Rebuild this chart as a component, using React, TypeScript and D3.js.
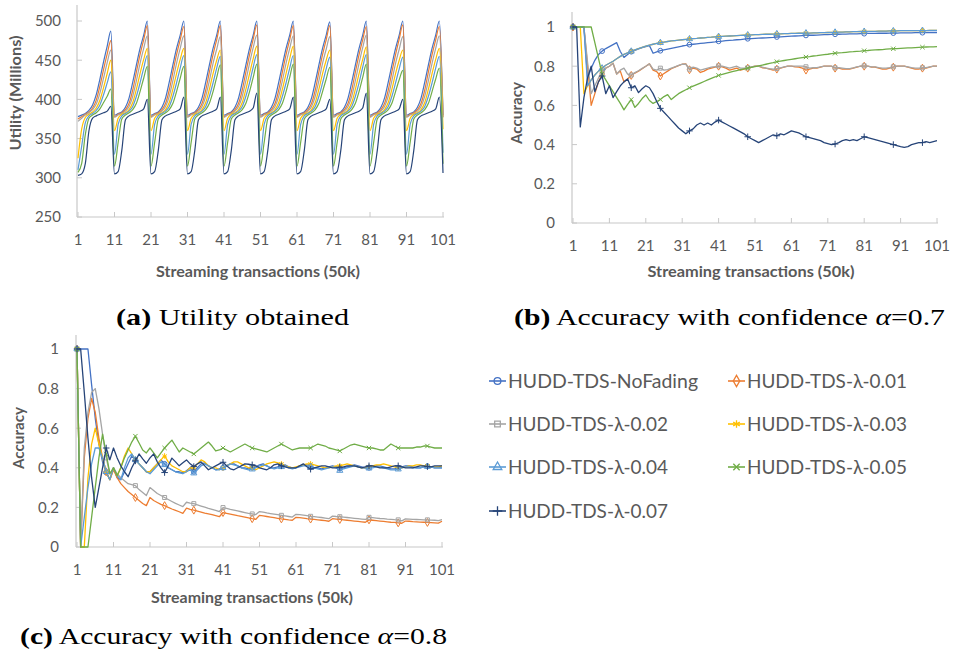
import React from 'react';
import * as d3 from 'd3';

const SERIES_NAMES = ['HUDD-TDS-NoFading', 'HUDD-TDS-λ-0.01', 'HUDD-TDS-λ-0.02', 'HUDD-TDS-λ-0.03', 'HUDD-TDS-λ-0.04', 'HUDD-TDS-λ-0.05', 'HUDD-TDS-λ-0.07'];
const SERIES_COLORS = ['#4472C4', '#ED7D31', '#A5A5A5', '#FFC000', '#5B9BD5', '#70AD47', '#264478'];
const X_TICKS = [1, 11, 21, 31, 41, 51, 61, 71, 81, 91, 101];
const UTIL_TICKS = [250, 300, 350, 400, 450, 500];
const ACC_TICKS = [0, 0.2, 0.4, 0.6, 0.8, 1];

// (a) Utility obtained (millions)
const A_NOFADING = [
  378, 380, 382, 386, 393, 406, 426, 448, 468, 487,
  380, 382, 384, 390, 402, 422, 444, 465, 482, 500,
  380, 382, 384, 390, 402, 422, 444, 465, 482, 500,
  380, 382, 384, 390, 402, 422, 444, 465, 482, 500,
  380, 382, 384, 390, 402, 422, 444, 465, 482, 500,
  380, 382, 384, 390, 402, 422, 444, 465, 482, 500,
  380, 382, 384, 390, 402, 422, 444, 465, 482, 499,
  380, 382, 384, 390, 402, 422, 444, 465, 482, 500,
  380, 382, 384, 390, 402, 422, 444, 465, 482, 500,
  380, 382, 384, 390, 402, 422, 444, 465, 482, 500,
  380];
const A_L001 = [
  375, 378, 381, 384, 389, 399, 417, 438, 458, 475,
  378, 381, 383, 387, 395, 412, 435, 457, 476, 494,
  378, 381, 383, 387, 395, 412, 435, 457, 476, 493,
  378, 381, 383, 387, 395, 412, 435, 457, 476, 494,
  378, 381, 383, 387, 395, 412, 435, 457, 477, 495,
  378, 381, 383, 387, 395, 412, 435, 457, 476, 494,
  378, 381, 383, 387, 395, 412, 435, 457, 476, 494,
  378, 381, 383, 387, 395, 412, 435, 457, 476, 493,
  378, 381, 383, 387, 395, 412, 435, 457, 477, 495,
  378, 381, 383, 387, 395, 412, 435, 457, 476, 493,
  378];
const A_L002 = [
  372, 376, 380, 383, 387, 394, 408, 427, 447, 463,
  377, 380, 382, 385, 391, 404, 424, 446, 465, 481,
  377, 380, 382, 385, 391, 404, 424, 446, 465, 481,
  377, 380, 382, 385, 391, 404, 424, 446, 464, 480,
  377, 380, 382, 385, 391, 404, 424, 446, 466, 482,
  377, 380, 382, 385, 391, 404, 424, 446, 465, 481,
  377, 380, 382, 385, 391, 404, 424, 446, 464, 480,
  377, 380, 382, 385, 391, 404, 424, 446, 466, 482,
  377, 380, 382, 385, 391, 404, 424, 446, 464, 480,
  377, 380, 382, 385, 391, 404, 424, 446, 465, 481,
  377];
const A_L003 = [
  325, 362, 377, 381, 384, 389, 399, 415, 433, 450,
  360, 376, 381, 383, 387, 396, 413, 433, 451, 465,
  360, 376, 381, 383, 387, 396, 413, 433, 451, 465,
  360, 376, 381, 383, 387, 396, 413, 433, 450, 463,
  360, 376, 381, 383, 387, 396, 413, 433, 452, 468,
  360, 376, 381, 383, 387, 396, 413, 433, 452, 468,
  360, 376, 381, 383, 387, 396, 413, 433, 450, 463,
  360, 376, 381, 383, 387, 396, 413, 433, 451, 467,
  360, 376, 381, 383, 387, 396, 413, 433, 450, 463,
  360, 376, 381, 383, 387, 396, 413, 433, 451, 465,
  362];
const A_L004 = [
  310, 340, 370, 379, 382, 386, 393, 406, 421, 435,
  330, 368, 379, 382, 385, 391, 404, 421, 440, 456,
  330, 368, 379, 382, 385, 391, 404, 421, 440, 456,
  330, 368, 379, 382, 385, 391, 404, 421, 440, 455,
  330, 368, 379, 382, 385, 391, 404, 421, 441, 457,
  330, 368, 379, 382, 385, 391, 404, 421, 440, 456,
  330, 368, 379, 382, 385, 391, 404, 421, 439, 454,
  330, 368, 379, 382, 385, 391, 404, 421, 441, 457,
  330, 368, 379, 382, 385, 391, 404, 421, 439, 454,
  330, 368, 379, 382, 385, 391, 404, 421, 440, 455,
  332];
const A_L005 = [
  307, 318, 355, 376, 380, 383, 388, 396, 404, 413,
  315, 345, 375, 380, 383, 387, 395, 410, 427, 442,
  315, 345, 375, 380, 383, 387, 395, 410, 427, 442,
  315, 345, 375, 380, 383, 387, 395, 410, 428, 444,
  315, 345, 375, 380, 383, 387, 395, 410, 428, 445,
  315, 345, 375, 380, 383, 387, 395, 410, 428, 445,
  315, 345, 375, 380, 383, 387, 395, 410, 426, 441,
  315, 345, 375, 380, 383, 387, 395, 410, 428, 445,
  315, 345, 375, 380, 383, 387, 395, 410, 425, 437,
  315, 345, 375, 380, 383, 387, 395, 410, 426, 440,
  318];
const A_L007 = [
  303, 305, 318, 360, 376, 379, 381, 383, 385, 391,
  305, 308, 335, 374, 379, 381, 383, 385, 388, 400,
  305, 308, 335, 374, 379, 381, 383, 385, 388, 403,
  305, 308, 335, 374, 379, 381, 383, 385, 388, 403,
  305, 308, 335, 374, 379, 381, 383, 385, 389, 408,
  305, 308, 335, 374, 379, 381, 383, 385, 388, 403,
  305, 308, 335, 374, 379, 381, 383, 385, 388, 400,
  305, 308, 335, 374, 379, 381, 383, 385, 389, 408,
  305, 308, 335, 374, 379, 381, 383, 385, 388, 400,
  305, 308, 335, 374, 379, 381, 383, 385, 388, 403,
  306];

// (b) Accuracy with confidence alpha = 0.7
const B_NOFADING = [
  1, 1, 1, 1, 0.74, 0.79, 0.83, 0.86, 0.877, 0.89,
  0.90, 0.91, 0.92, 0.875, 0.845, 0.86, 0.874, 0.881, 0.888, 0.895,
  0.90, 0.905, 0.866, 0.873, 0.879, 0.883, 0.887, 0.891, 0.895, 0.899,
  0.903, 0.906, 0.910, 0.912, 0.914, 0.916, 0.918, 0.920, 0.922, 0.924,
  0.927, 0.928, 0.930, 0.932, 0.933, 0.935, 0.936, 0.938, 0.940, 0.941,
  0.942, 0.943, 0.944, 0.945, 0.946, 0.947, 0.949, 0.950, 0.951, 0.952,
  0.953, 0.954, 0.955, 0.956, 0.957, 0.958, 0.958, 0.959, 0.960, 0.961,
  0.961, 0.962, 0.963, 0.963, 0.964, 0.964, 0.965, 0.965, 0.965, 0.966,
  0.966, 0.967, 0.967, 0.967, 0.968, 0.968, 0.968, 0.969, 0.969, 0.969,
  0.970, 0.970, 0.970, 0.970, 0.971, 0.971, 0.971, 0.971, 0.972, 0.972, 0.972];
const B_L001 = [
  1, 1, 1, 1, 0.80, 0.60, 0.66, 0.72, 0.76, 0.79,
  0.80, 0.815, 0.76, 0.775, 0.72, 0.735, 0.753, 0.765, 0.775, 0.787,
  0.80, 0.812, 0.78, 0.772, 0.75, 0.763, 0.775, 0.787, 0.795, 0.803,
  0.81, 0.812, 0.782, 0.79, 0.785, 0.768, 0.775, 0.785, 0.79, 0.795,
  0.80, 0.797, 0.79, 0.78, 0.785, 0.79, 0.78, 0.785, 0.79, 0.795,
  0.80, 0.80, 0.792, 0.79, 0.785, 0.78, 0.785, 0.79, 0.795, 0.80,
  0.80, 0.797, 0.795, 0.79, 0.78, 0.785, 0.79, 0.79, 0.795, 0.80,
  0.80, 0.80, 0.79, 0.79, 0.785, 0.785, 0.785, 0.79, 0.795, 0.80,
  0.80, 0.80, 0.795, 0.795, 0.79, 0.785, 0.785, 0.79, 0.795, 0.80,
  0.80, 0.80, 0.795, 0.79, 0.785, 0.785, 0.79, 0.79, 0.795, 0.80, 0.80];
const B_L002 = [
  1, 1, 1, 1, 0.82, 0.66, 0.70, 0.74, 0.77, 0.79,
  0.80, 0.815, 0.76, 0.78, 0.79, 0.76, 0.755, 0.767, 0.777, 0.789,
  0.80, 0.812, 0.785, 0.78, 0.79, 0.78, 0.783, 0.79, 0.797, 0.804,
  0.81, 0.81, 0.785, 0.795, 0.79, 0.78, 0.785, 0.79, 0.795, 0.798,
  0.802, 0.80, 0.795, 0.79, 0.795, 0.80, 0.79, 0.79, 0.792, 0.797,
  0.80, 0.80, 0.795, 0.79, 0.787, 0.785, 0.788, 0.792, 0.797, 0.80,
  0.80, 0.80, 0.80, 0.80, 0.797, 0.79, 0.792, 0.793, 0.797, 0.80,
  0.80, 0.80, 0.792, 0.792, 0.79, 0.788, 0.788, 0.792, 0.797, 0.80,
  0.802, 0.80, 0.797, 0.797, 0.793, 0.79, 0.79, 0.793, 0.797, 0.80,
  0.80, 0.80, 0.797, 0.793, 0.79, 0.79, 0.792, 0.793, 0.797, 0.80, 0.80];
const B_L003 = [
  1, 1, 1, 0.66, 0.70, 0.73, 0.755, 0.775, 0.79, 0.805,
  0.815, 0.825, 0.838, 0.85, 0.86, 0.868, 0.876, 0.883, 0.89, 0.896,
  0.902, 0.907, 0.912, 0.916, 0.92, 0.923, 0.926, 0.929, 0.931, 0.933,
  0.935, 0.937, 0.939, 0.941, 0.942, 0.944, 0.945, 0.947, 0.948, 0.95,
  0.951, 0.952, 0.953, 0.954, 0.955, 0.956, 0.957, 0.958, 0.959, 0.960,
  0.961, 0.961, 0.962, 0.963, 0.963, 0.964, 0.965, 0.965, 0.966, 0.966,
  0.967, 0.967, 0.968, 0.968, 0.969, 0.969, 0.970, 0.970, 0.971, 0.971,
  0.972, 0.973, 0.973, 0.974, 0.974, 0.975, 0.975, 0.976, 0.976, 0.977,
  0.977, 0.978, 0.978, 0.978, 0.979, 0.979, 0.979, 0.980, 0.980, 0.980,
  0.981, 0.981, 0.981, 0.981, 0.982, 0.982, 0.982, 0.982, 0.983, 0.983, 0.983];
const B_L004 = [
  1, 1, 1, 1, 0.70, 0.73, 0.755, 0.775, 0.79, 0.805,
  0.815, 0.825, 0.838, 0.85, 0.86, 0.868, 0.876, 0.883, 0.89, 0.896,
  0.902, 0.907, 0.912, 0.916, 0.92, 0.923, 0.926, 0.929, 0.931, 0.933,
  0.935, 0.937, 0.939, 0.941, 0.942, 0.944, 0.945, 0.947, 0.948, 0.95,
  0.951, 0.952, 0.953, 0.954, 0.955, 0.956, 0.957, 0.958, 0.959, 0.960,
  0.961, 0.961, 0.962, 0.963, 0.963, 0.964, 0.965, 0.965, 0.966, 0.966,
  0.967, 0.967, 0.968, 0.968, 0.969, 0.969, 0.970, 0.970, 0.971, 0.971,
  0.972, 0.973, 0.973, 0.974, 0.974, 0.975, 0.975, 0.976, 0.976, 0.977,
  0.977, 0.978, 0.978, 0.978, 0.979, 0.979, 0.979, 0.980, 0.980, 0.980,
  0.981, 0.981, 0.981, 0.981, 0.982, 0.982, 0.982, 0.982, 0.983, 0.983, 0.983];
const B_L005 = [
  1, 1, 1, 1, 1, 1, 0.92, 0.84, 0.76, 0.73,
  0.70, 0.67, 0.64, 0.61, 0.577, 0.605, 0.63, 0.59, 0.61, 0.635,
  0.653, 0.625, 0.61, 0.62, 0.63, 0.645, 0.655, 0.63, 0.645, 0.66,
  0.67, 0.68, 0.69, 0.698, 0.706, 0.714, 0.722, 0.73, 0.738, 0.745,
  0.753, 0.758, 0.763, 0.768, 0.773, 0.778, 0.782, 0.786, 0.79, 0.794,
  0.798, 0.802, 0.806, 0.81, 0.814, 0.818, 0.823, 0.826, 0.829, 0.832,
  0.835, 0.838, 0.841, 0.844, 0.847, 0.849, 0.852, 0.854, 0.857, 0.859,
  0.861, 0.864, 0.866, 0.868, 0.869, 0.871, 0.873, 0.874, 0.876, 0.877,
  0.879, 0.88, 0.882, 0.883, 0.884, 0.885, 0.887, 0.888, 0.889, 0.89,
  0.891, 0.892, 0.893, 0.894, 0.895, 0.896, 0.897, 0.898, 0.899, 0.899, 0.90];
const B_L007 = [
  1, 1, 0.49, 0.64, 0.74, 0.80, 0.67, 0.72, 0.75, 0.66,
  0.70, 0.64, 0.67, 0.70, 0.72, 0.735, 0.69, 0.70, 0.665, 0.685,
  0.70, 0.69, 0.66, 0.62, 0.585, 0.565, 0.545, 0.525, 0.505, 0.485,
  0.47, 0.455, 0.47, 0.48, 0.50, 0.51, 0.50, 0.51, 0.50, 0.515,
  0.525, 0.515, 0.505, 0.495, 0.485, 0.475, 0.465, 0.455, 0.44, 0.43,
  0.42, 0.41, 0.42, 0.43, 0.44, 0.45, 0.445, 0.455, 0.45, 0.46,
  0.47, 0.465, 0.46, 0.45, 0.44, 0.435, 0.43, 0.425, 0.42, 0.41,
  0.405, 0.40, 0.403, 0.41, 0.42, 0.425, 0.42, 0.425, 0.42, 0.43,
  0.44, 0.435, 0.43, 0.425, 0.42, 0.415, 0.41, 0.405, 0.40, 0.395,
  0.39, 0.386, 0.39, 0.40, 0.405, 0.41, 0.41, 0.415, 0.41, 0.415, 0.42];

// (c) Accuracy with confidence alpha = 0.8
const C_NOFADING = [
  1, 1, 1, 1, 0.82, 0.65, 0.52, 0.43, 0.376, 0.34,
  0.40, 0.35, 0.34, 0.38, 0.42, 0.46, 0.44, 0.42, 0.40, 0.38,
  0.38, 0.40, 0.42, 0.44, 0.42, 0.40, 0.39, 0.38, 0.38, 0.375,
  0.385, 0.40, 0.38, 0.40, 0.42, 0.425, 0.41, 0.40, 0.39, 0.395,
  0.40, 0.41, 0.42, 0.42, 0.41, 0.40, 0.40, 0.395, 0.40, 0.405,
  0.415, 0.42, 0.41, 0.40, 0.40, 0.405, 0.41, 0.415, 0.405, 0.40,
  0.40, 0.41, 0.415, 0.415, 0.41, 0.40, 0.40, 0.395, 0.40, 0.405,
  0.41, 0.405, 0.395, 0.40, 0.405, 0.41, 0.415, 0.41, 0.405, 0.40,
  0.40, 0.405, 0.41, 0.41, 0.405, 0.40, 0.395, 0.395, 0.40, 0.405,
  0.41, 0.41, 0.405, 0.40, 0.40, 0.405, 0.408, 0.405, 0.40, 0.40, 0.40];
const C_L001 = [
  1, 0, 0.45, 0.65, 0.75, 0.68, 0.55, 0.45, 0.38, 0.34,
  0.39, 0.35, 0.32, 0.30, 0.28, 0.265, 0.25, 0.235, 0.22, 0.209,
  0.25, 0.235, 0.225, 0.215, 0.209, 0.20, 0.192, 0.185, 0.178, 0.17,
  0.196, 0.19, 0.186, 0.181, 0.176, 0.171, 0.167, 0.163, 0.158, 0.153,
  0.174, 0.17, 0.166, 0.162, 0.158, 0.155, 0.151, 0.147, 0.143, 0.14,
  0.16, 0.157, 0.154, 0.151, 0.148, 0.145, 0.142, 0.14, 0.137, 0.135,
  0.15, 0.148, 0.146, 0.143, 0.141, 0.139, 0.137, 0.135, 0.133, 0.13,
  0.143, 0.141, 0.139, 0.137, 0.135, 0.133, 0.131, 0.129, 0.127, 0.125,
  0.137, 0.135, 0.133, 0.131, 0.129, 0.127, 0.125, 0.124, 0.122, 0.12,
  0.131, 0.13, 0.128, 0.127, 0.126, 0.125, 0.124, 0.123, 0.122, 0.121, 0.13];
const C_L002 = [
  1, 0, 0.50, 0.68, 0.78, 0.80, 0.70, 0.57, 0.45, 0.37,
  0.40, 0.37, 0.35, 0.335, 0.32, 0.315, 0.31, 0.29, 0.275, 0.26,
  0.30, 0.285, 0.27, 0.26, 0.25, 0.24, 0.23, 0.22, 0.212, 0.204,
  0.226, 0.222, 0.219, 0.213, 0.207, 0.201, 0.195, 0.19, 0.185, 0.179,
  0.199, 0.195, 0.19, 0.186, 0.182, 0.178, 0.174, 0.17, 0.167, 0.164,
  0.179, 0.176, 0.172, 0.169, 0.166, 0.163, 0.16, 0.157, 0.154, 0.151,
  0.165, 0.163, 0.161, 0.158, 0.155, 0.153, 0.151, 0.149, 0.146, 0.143,
  0.156, 0.154, 0.153, 0.151, 0.149, 0.147, 0.145, 0.143, 0.141, 0.139,
  0.15, 0.148, 0.146, 0.144, 0.143, 0.141, 0.14, 0.138, 0.137, 0.132,
  0.142, 0.141, 0.14, 0.139, 0.138, 0.137, 0.137, 0.136, 0.135, 0.133, 0.138];
const C_L003 = [
  1, 0, 0, 0.35, 0.52, 0.60, 0.52, 0.45, 0.38, 0.34,
  0.40, 0.36, 0.40, 0.46, 0.50, 0.47, 0.44, 0.42, 0.40, 0.38,
  0.38, 0.40, 0.42, 0.44, 0.46, 0.43, 0.41, 0.40, 0.39, 0.38,
  0.38, 0.40, 0.40, 0.42, 0.44, 0.43, 0.41, 0.40, 0.40, 0.39,
  0.40, 0.41, 0.42, 0.43, 0.43, 0.42, 0.41, 0.40, 0.40, 0.39,
  0.40, 0.41, 0.42, 0.425, 0.43, 0.425, 0.42, 0.41, 0.405, 0.40,
  0.405, 0.41, 0.415, 0.42, 0.42, 0.415, 0.41, 0.405, 0.40, 0.40,
  0.405, 0.41, 0.41, 0.415, 0.42, 0.415, 0.41, 0.405, 0.40, 0.40,
  0.405, 0.41, 0.415, 0.415, 0.42, 0.415, 0.41, 0.405, 0.40, 0.40,
  0.405, 0.41, 0.41, 0.415, 0.415, 0.41, 0.41, 0.405, 0.405, 0.405, 0.41];
const C_L004 = [
  1, 0, 0.15, 0.30, 0.42, 0.50, 0.50, 0.45, 0.38, 0.34,
  0.40, 0.36, 0.34, 0.40, 0.45, 0.47, 0.44, 0.42, 0.40, 0.38,
  0.37, 0.39, 0.41, 0.43, 0.415, 0.40, 0.39, 0.38, 0.375, 0.37,
  0.38, 0.39, 0.373, 0.39, 0.41, 0.42, 0.41, 0.40, 0.39, 0.39,
  0.40, 0.41, 0.42, 0.415, 0.41, 0.40, 0.395, 0.39, 0.393, 0.40,
  0.41, 0.415, 0.41, 0.40, 0.395, 0.40, 0.405, 0.41, 0.40, 0.395,
  0.40, 0.405, 0.41, 0.41, 0.405, 0.40, 0.395, 0.39, 0.395, 0.40,
  0.405, 0.40, 0.386, 0.395, 0.40, 0.405, 0.41, 0.405, 0.40, 0.398,
  0.398, 0.40, 0.405, 0.405, 0.40, 0.395, 0.39, 0.39, 0.393, 0.40,
  0.405, 0.405, 0.40, 0.40, 0.40, 0.405, 0.406, 0.405, 0.40, 0.40, 0.40];
const C_L005 = [
  1, 0, 0, 0, 0.15, 0.30, 0.45, 0.57, 0.47, 0.37,
  0.40, 0.36, 0.40, 0.45, 0.49, 0.53, 0.56, 0.525, 0.49, 0.475,
  0.50, 0.475, 0.45, 0.475, 0.50, 0.52, 0.54, 0.51, 0.48, 0.50,
  0.49, 0.48, 0.47, 0.485, 0.50, 0.515, 0.53, 0.51, 0.485, 0.49,
  0.50, 0.49, 0.48, 0.49, 0.50, 0.51, 0.52, 0.51, 0.50, 0.495,
  0.49, 0.485, 0.48, 0.49, 0.50, 0.51, 0.52, 0.51, 0.50, 0.49,
  0.495, 0.50, 0.50, 0.50, 0.50, 0.51, 0.52, 0.515, 0.51, 0.50,
  0.495, 0.49, 0.485, 0.495, 0.505, 0.515, 0.52, 0.515, 0.51, 0.505,
  0.50, 0.50, 0.495, 0.49, 0.49, 0.505, 0.52, 0.51, 0.50, 0.50,
  0.50, 0.50, 0.50, 0.505, 0.505, 0.51, 0.51, 0.505, 0.50, 0.50, 0.50];
const C_L007 = [
  1, 1, 0.78, 0.55, 0.35, 0.20, 0.30, 0.40, 0.50, 0.44,
  0.50, 0.45, 0.41, 0.38, 0.355, 0.40, 0.435, 0.47, 0.445, 0.423,
  0.45, 0.47, 0.43, 0.40, 0.376, 0.41, 0.449, 0.43, 0.41, 0.425,
  0.44, 0.42, 0.406, 0.42, 0.43, 0.41, 0.39, 0.40, 0.41, 0.42,
  0.428, 0.41, 0.395, 0.39, 0.40, 0.41, 0.42, 0.418, 0.415, 0.41,
  0.40, 0.395, 0.39, 0.40, 0.415, 0.42, 0.41, 0.405, 0.40, 0.40,
  0.40, 0.41, 0.42, 0.405, 0.393, 0.40, 0.405, 0.41, 0.41, 0.405,
  0.40, 0.40, 0.403, 0.405, 0.41, 0.41, 0.41, 0.405, 0.40, 0.405,
  0.41, 0.41, 0.405, 0.40, 0.40, 0.40, 0.405, 0.41, 0.41, 0.405,
  0.40, 0.40, 0.40, 0.405, 0.41, 0.41, 0.406, 0.405, 0.41, 0.41, 0.41];

const PANEL_A = [A_NOFADING, A_L001, A_L002, A_L003, A_L004, A_L005, A_L007];
const PANEL_B = [B_NOFADING, B_L001, B_L002, B_L003, B_L004, B_L005, B_L007];
const PANEL_C = [C_NOFADING, C_L001, C_L002, C_L003, C_L004, C_L005, C_L007];

const SYMBOLS = [d3.symbolCircle, d3.symbolDiamond, d3.symbolSquare, d3.symbolAsterisk, d3.symbolTriangle, d3.symbolTimes, d3.symbolPlus];
const SYMBOL_SIZES = [18, 18, 16, 20, 16, 14, 16];

const SANS = 'Lato, "Open Sans", sans-serif';
const TEXT = '#595959';
const AXIS = '#C8C8C8';

function symbolPath(i: number, scale = 1) {
  return d3.symbol().type(SYMBOLS[i]).size(SYMBOL_SIZES[i] * scale)() || '';
}

type PanelProps = {
  series: number[][];
  x0: number; x1: number;
  yDomain: [number, number]; yTop: number; yBottom: number; axisTop: number;
  yTicks: number[]; fmt: (v: number) => string;
  labelRight: number; xLabelY: number;
  yTitle: string; yTitleX: number; yTitleY: number; yTitleLen: number;
  xTitleX: number; xTitleY: number; xTitleLen: number;
  smooth: boolean; markers: boolean; strokeW: number;
};

function Panel(p: PanelProps) {
  const xs = d3.scaleLinear().domain([1, 101]).range([p.x0, p.x1]);
  const ys = d3.scaleLinear().domain(p.yDomain).range([p.yBottom, p.yTop]);
  const line = d3.line<number>()
    .x((_, i) => xs(i + 1))
    .y((d) => ys(d))
    .curve(p.smooth ? d3.curveMonotoneX : d3.curveLinear);
  const axisX = p.x0 - 1;
  const baseY = ys(p.yDomain[0]);
  return (
    <g>
      <line x1={axisX} x2={axisX} y1={p.axisTop} y2={baseY} stroke={AXIS} strokeWidth={1.2} />
      <line x1={axisX} x2={p.x1 + 1} y1={baseY} y2={baseY} stroke={AXIS} strokeWidth={1.2} />
      {p.yTicks.map((t) => (
        <g key={'yt' + t}>
          <line x1={axisX} x2={axisX + 5} y1={ys(t)} y2={ys(t)} stroke={AXIS} strokeWidth={1} />
          <text x={p.labelRight} y={ys(t)} dy="0.36em" textAnchor="end" fontFamily={SANS} fontSize={15} fill={TEXT}>{p.fmt(t)}</text>
        </g>
      ))}
      {X_TICKS.map((t) => (
        <g key={'xt' + t}>
          <line x1={xs(t)} x2={xs(t)} y1={baseY - 5} y2={baseY} stroke={AXIS} strokeWidth={1} />
          <text x={xs(t)} y={p.xLabelY} textAnchor="middle" fontFamily={SANS} fontSize={15} fill={TEXT}>{t}</text>
        </g>
      ))}
      {p.series.map((s, si) => (
        <g key={'s' + si}>
          <path d={line(s) || ''} fill="none" stroke={SERIES_COLORS[si]} strokeWidth={p.strokeW} strokeLinejoin="round" />
          {p.markers && s.map((v, i) => (i % 8 === 0 ? (
            <path key={i} d={symbolPath(si)} transform={`translate(${xs(i + 1)},${ys(v)})`} fill="none" stroke={SERIES_COLORS[si]} strokeWidth={1} />
          ) : null))}
        </g>
      ))}
      <text transform={`translate(${p.yTitleX},${p.yTitleY}) rotate(-90)`} textAnchor="middle" fontFamily={SANS} fontWeight="bold" fontSize={15} fill={TEXT} textLength={p.yTitleLen} lengthAdjust="spacingAndGlyphs">{p.yTitle}</text>
      <text x={p.xTitleX} y={p.xTitleY} textAnchor="middle" fontFamily={SANS} fontWeight="bold" fontSize={15} fill={TEXT} textLength={p.xTitleLen} lengthAdjust="spacingAndGlyphs">Streaming transactions (50k)</text>
    </g>
  );
}

function Legend() {
  const cols = [489, 728];
  const rows = [381, 424, 467, 511];
  return (
    <g>
      {SERIES_NAMES.map((name, i) => {
        const cx = cols[i % 2];
        const cy = rows[Math.floor(i / 2)];
        return (
          <g key={name}>
            <line x1={cx} x2={cx + 17} y1={cy} y2={cy} stroke={SERIES_COLORS[i]} strokeWidth={1.6} />
            <path d={symbolPath(i, 2)} transform={`translate(${cx + 8.5},${cy})`} fill="none" stroke={SERIES_COLORS[i]} strokeWidth={1.3} />
            <text x={cx + 19} y={cy + 7} fontFamily={SANS} fontSize={20} fill={TEXT} textLength={i === 0 ? 190 : 160} lengthAdjust="spacingAndGlyphs">{name}</text>
          </g>
        );
      })}
    </g>
  );
}

const SERIF = '"Liberation Serif", "DejaVu Serif", serif';

export default function App() {
  const fmtAcc = (v: number) => (v === 0 ? '0' : v === 1 ? '1' : String(v));
  return (
    <svg width={954} height={661} style={{ position: 'absolute', left: 0, top: 0, background: '#fff' }}>
      <rect width={954} height={661} fill="#fff" />
      <Panel series={PANEL_A} x0={78} x1={443} yDomain={[250, 500]} yTop={21} yBottom={217} axisTop={5}
        yTicks={UTIL_TICKS} fmt={(v) => String(v)} labelRight={61} xLabelY={245}
        yTitle="Utility (Millions)" yTitleX={21} yTitleY={93} yTitleLen={115}
        xTitleX={258} xTitleY={277} xTitleLen={204} smooth={true} markers={false} strokeW={1.2} />
      <Panel series={PANEL_B} x0={573} x1={937} yDomain={[0, 1]} yTop={27} yBottom={223} axisTop={12}
        yTicks={ACC_TICKS} fmt={fmtAcc} labelRight={555} xLabelY={251}
        yTitle="Accuracy" yTitleX={522} yTitleY={113} yTitleLen={62}
        xTitleX={751} xTitleY={277} xTitleLen={207} smooth={false} markers={true} strokeW={1.3} />
      <Panel series={PANEL_C} x0={77} x1={442} yDomain={[0, 1]} yTop={349} yBottom={547} axisTop={335}
        yTicks={ACC_TICKS} fmt={fmtAcc} labelRight={59} xLabelY={575}
        yTitle="Accuracy" yTitleX={24} yTitleY={438} yTitleLen={62}
        xTitleX={252} xTitleY={603} xTitleLen={202} smooth={false} markers={true} strokeW={1.3} />
      <Legend />
      <text x={116} y={325} fontFamily={SERIF} fontSize={24} fill="#000" textLength={233} lengthAdjust="spacingAndGlyphs">
        <tspan fontWeight="bold">(a)</tspan>{' Utility obtained'}
      </text>
      <text x={514} y={325} fontFamily={SERIF} fontSize={24} fill="#000" textLength={431} lengthAdjust="spacingAndGlyphs">
        <tspan fontWeight="bold">(b)</tspan>{' Accuracy with confidence '}<tspan fontStyle="italic">α</tspan>{'=0.7'}
      </text>
      <text x={20} y={644} fontFamily={SERIF} fontSize={24} fill="#000" textLength={427} lengthAdjust="spacingAndGlyphs">
        <tspan fontWeight="bold">(c)</tspan>{' Accuracy with confidence '}<tspan fontStyle="italic">α</tspan>{'=0.8'}
      </text>
    </svg>
  );
}
